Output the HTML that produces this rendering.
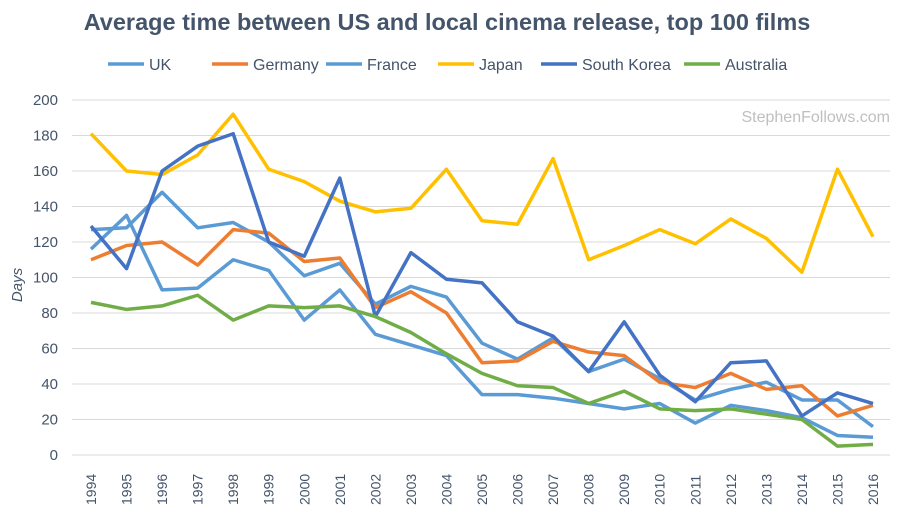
<!DOCTYPE html>
<html><head><meta charset="utf-8"><style>
body{margin:0;background:#fff;font-family:"Liberation Sans",sans-serif;}
svg text{font-family:"Liberation Sans",sans-serif;}
</style></head><body>
<svg id="c" width="900" height="513">
<text x="447" y="30" text-anchor="middle" font-size="23.5" font-weight="bold" fill="#44546a">Average time between US and local cinema release, top 100 films</text>
<text x="890" y="122" text-anchor="end" font-size="16" fill="#bfbfbf">StephenFollows.com</text>
<text transform="translate(22,285) rotate(-90)" text-anchor="middle" font-size="15" font-style="italic" fill="#44546a">Days</text>
<g id="grid"></g><g id="lines"></g><g id="legend"></g>
</svg>
<script>
const years=[1994,1995,1996,1997,1998,1999,2000,2001,2002,2003,2004,2005,2006,2007,2008,2009,2010,2011,2012,2013,2014,2015,2016];
const yTicks=[0,20,40,60,80,100,120,140,160,180,200];
const uk=[127,128,148,128,131,120,101,108,85,95,89,63,54,66,47,54,43,31,37,41,31,31,16];
const germany=[110,118,120,107,127,125,109,111,83,92,80,52,53,64,58,56,41,38,46,37,39,22,28];
const france=[116,135,93,94,110,104,76,93,68,62,56,34,34,32,29,26,29,18,28,25,21,11,10];
const japan=[181,160,158,169,192,161,154,143,137,139,161,132,130,167,110,118,127,119,133,122,103,161,123];
const korea=[129,105,160,174,181,120,112,156,78,114,99,97,75,67,47,75,45,30,52,53,22,35,29];
const australia=[86,82,84,90,76,84,83,84,78,69,57,46,39,38,29,36,26,25,26,23,20,5,6];
const seriesNames=["UK","Germany","France","Japan","South Korea","Australia"];
const seriesData=[uk,germany,france,japan,korea,australia];
const colors=["#5b9bd5","#ed7d31","#5b9bd5","#ffc000","#4472c4","#70ad47"];
const NS="http://www.w3.org/2000/svg";
const x=i=>91+i*(873-91)/(years.length-1);
const y=v=>455-v*(355/200);
const grid=document.getElementById('grid');
function mk(t,a,p){const e=document.createElementNS(NS,t);for(const k in a)e.setAttribute(k,a[k]);p.appendChild(e);return e;}
yTicks.forEach(t=>{
 const l=mk('line',{x1:72,x2:890,y1:y(t),y2:y(t),stroke:'#d9d9d9','stroke-width':1},grid);
 
 
 const tx=mk('text',{x:58,y:y(t)+5,'text-anchor':'end','font-size':15,fill:'#44546a'},grid);
 tx.textContent=t;
 
 
});
years.forEach((yr,i)=>{
 const tx=mk('text',{transform:`translate(${x(i)+5},505) rotate(-90)`,'font-size':14,fill:'#44546a'},grid);
 tx.textContent=yr;
 
 
});
const lg=document.getElementById('lines');
seriesData.forEach((d,s)=>{
 const p=mk('polyline',{points:d.map((v,i)=>x(i)+','+y(v)).join(' '),fill:'none',stroke:colors[s],'stroke-width':3.5,'stroke-linejoin':'round'},lg);
 
 
});
const leg=document.getElementById('legend');
const lx=[108,212,326,438,541,684];
seriesNames.forEach((n,s)=>{
 const g=mk('g',{},leg);
 
 
 mk('line',{x1:lx[s],x2:lx[s]+36,y1:64,y2:64,stroke:colors[s],'stroke-width':3.5},g);
 const t=mk('text',{x:lx[s]+41,y:70,'font-size':16,fill:'#44546a'},g);
 t.textContent=n;
});
</script>
</body></html>
